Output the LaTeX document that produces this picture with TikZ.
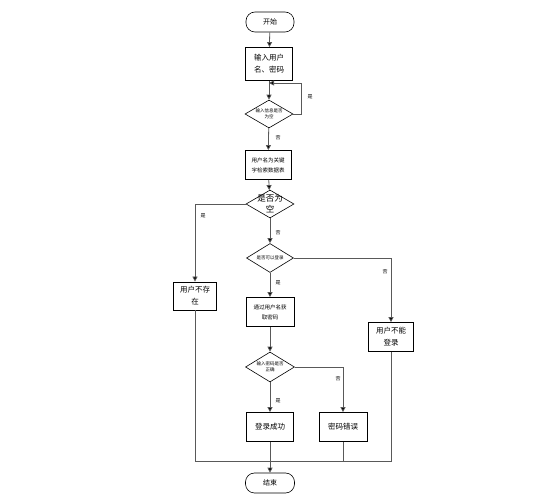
\documentclass[tikz,border=0pt]{standalone}
\usepackage{fontspec}
\setmainfont{Noto Sans CJK SC}
\usetikzlibrary{shapes.geometric,arrows.meta}
\begin{document}
\begin{tikzpicture}[x=1pt,y=-1pt,
  box/.style={draw=black,line width=0.8pt,fill=white,inner sep=0pt,align=center,font=\fontsize{7.5}{12}\selectfont},
  sbox/.style={box,font=\fontsize{5.5}{10}\selectfont},
  term/.style={draw=black,line width=0.6pt,rounded corners=9pt,inner sep=0pt,align=center,font=\fontsize{7}{9}\selectfont},
  dec/.style={draw=black,line width=0.6pt,shape=diamond,inner sep=0pt},
  dtxt/.style={align=center,inner sep=0pt,font=\fontsize{4.5}{6.5}\selectfont},
  conn/.style={draw=black!65,line width=0.8pt},
  arr/.style={conn,-{Triangle[length=5pt,width=5pt,fill=black]}},
  lab/.style={font=\fontsize{5}{6}\selectfont,inner sep=0pt}]
\useasboundingbox (0,0) rectangle (550,497);
\node[term,minimum width=48pt,minimum height=20pt] (start) at (270,22) {开始};
\node[box,minimum width=47pt,minimum height=33pt] (b1) at (269,64) {输入用户\\名、密码};
\node[dec,minimum width=48pt,minimum height=28pt,label={[dtxt]center:{输入信息是否\\为空}}] (d1) at (269,114) {};
\node[sbox,minimum width=46pt,minimum height=29pt] (b2) at (268,165) {用户名为关键\\字检索数据表};
\node[dec,minimum width=48pt,minimum height=28pt,label={[dtxt,font=\fontsize{8.5}{11}\selectfont]center:{是否为\\空}}] (d2) at (270,204) {};
\node[dec,minimum width=47pt,minimum height=29pt,label={[dtxt]center:{是否可以登录}}] (d3) at (270,258) {};
\node[sbox,minimum width=48pt,minimum height=29pt] (b3) at (270,312) {通过用户名获\\取密码};
\node[dec,minimum width=49pt,minimum height=30pt,label={[dtxt]center:{输入密码是否\\正确}}] (d4) at (270,367) {};
\node[box,minimum width=47pt,minimum height=29pt] (b4) at (270,427) {登录成功};
\node[box,minimum width=48pt,minimum height=29pt] (b5) at (343,427) {密码错误};
\node[box,minimum width=43pt,minimum height=28pt] (u1) at (195,296) {用户不存\\在};
\node[box,minimum width=45pt,minimum height=29pt] (u2) at (391,337) {用户不能\\登录};
\node[term,minimum width=49pt,minimum height=20pt] (end) at (270,483) {结束};
\coordinate (loopR) at (301,83);
\coordinate (bl) at (195,461);
\coordinate (br) at (391,461);
\draw[arr] (start) -- (b1);
\draw[arr] (b1) -- (d1);
\draw[arr] (d1.east) -| (loopR) -- (269,83);
\draw[arr] (d1) -- (b2);
\draw[arr] (b2) -- (d2);
\draw[arr] (d2.west) -| (u1.north);
\draw[arr] (d2) -- (d3);
\draw[arr] (d3.east) -| (u2.north);
\draw[arr] (d3) -- (b3);
\draw[arr] (b3) -- (d4);
\draw[arr] (d4) -- (b4);
\draw[arr] (d4.east) -| (b5.north);
\draw[conn] (u1.south) -- (bl) -- (br) -- (u2.south);
\draw[conn] (b5.south) -- (343,461);
\draw[arr] (b4.south) -- (end.north);
\node[lab] (l1) at (310,97) {是};
\node[lab] (l2) at (278,138) {否};
\node[lab] (l3) at (203,216) {是};
\node[lab] (l4) at (278,233) {否};
\node[lab] (l5) at (385,272) {否};
\node[lab] (l6) at (278,283) {是};
\node[lab] (l7) at (338,379) {否};
\node[lab] (l8) at (278,401) {是};
\end{tikzpicture}
\end{document}
